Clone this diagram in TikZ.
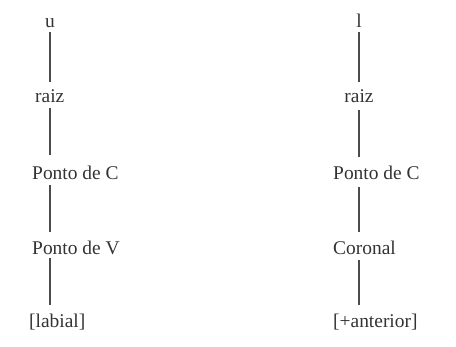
\documentclass[tikz,border=0pt]{standalone}
\usepackage{fontspec}
\setmainfont{Liberation Serif}
\begin{document}
\begin{tikzpicture}[x=1bp,y=-1bp,
  lab/.style={inner sep=0pt,font=\fontsize{19.5}{22}\selectfont,text=black!80},
  conn/.style={draw=black!70,line width=1.3bp}]
\useasboundingbox (0,0) rectangle (456,346);
% left column
\node[lab,anchor=base] (u) at (50,27) {u};
\node[lab,anchor=base west] (r1) at (35,102) {raiz};
\node[lab,anchor=base west] (pc1) at (32,179.5) {Ponto de C};
\node[lab,anchor=base west] (pv) at (32,254.5) {Ponto de V};
\node[lab,anchor=base west] (lab) at (29,327) {[labial]};
\draw[conn] ([yshift=-5bp]u.base) -- ([yshift=20bp]u.base |- r1.base);
\draw[conn] ([yshift=-6bp]u.base |- r1.base) -- ([yshift=24.5bp]u.base |- pc1.base);
\draw[conn] ([yshift=-5.5bp]u.base |- pc1.base) -- ([yshift=22.5bp]u.base |- pv.base);
\draw[conn] ([yshift=-3.5bp]u.base |- pv.base) -- ([yshift=22bp]u.base |- lab.base);
% right column
\node[lab,anchor=base] (l) at (359,27) {l};
\node[lab,anchor=base] (r2) at (359,102) {raiz};
\node[lab,anchor=base west] (pc2) at (333,179.5) {Ponto de C};
\node[lab,anchor=base west] (cor) at (333,254) {Coronal};
\node[lab,anchor=base west] (ant) at (333,327) {[+anterior]};
\draw[conn] ([yshift=-5bp]l.base) -- ([yshift=20bp]r2.base);
\draw[conn] ([yshift=-8bp]r2.base) -- ([yshift=22.5bp]r2.base |- pc2.base);
\draw[conn] ([yshift=-7.5bp]r2.base |- pc2.base) -- ([yshift=22bp]r2.base |- cor.base);
\draw[conn] ([yshift=-6bp]r2.base |- cor.base) -- ([yshift=22bp]r2.base |- ant.base);
\end{tikzpicture}
\end{document}
